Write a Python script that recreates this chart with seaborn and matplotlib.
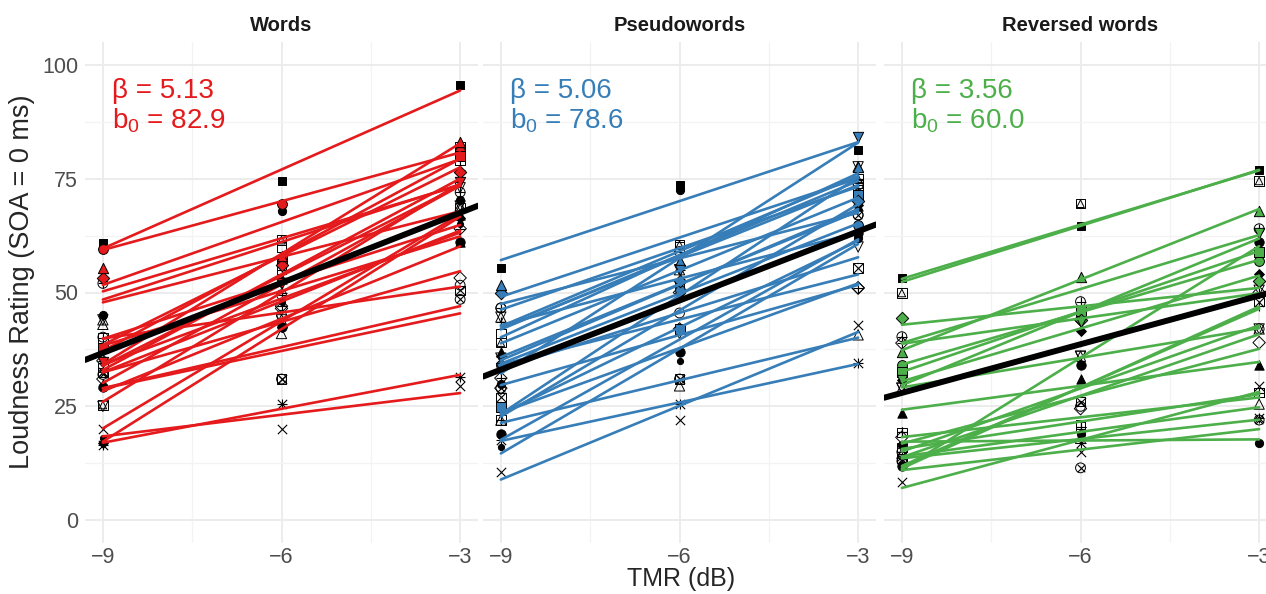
import numpy as np
import pandas as pd
import matplotlib
matplotlib.use("Agg")
import matplotlib.pyplot as plt
import seaborn as sns

# ---------------- data ----------------
tmr_levels = [-9, -6, -3]
conditions = ["Words", "Pseudowords", "Reversed words"]
cond_colors = ["#E41A1C", "#377EB8", "#4DAF4A"]
betas = [5.13, 5.06, 3.56]
intercepts = [82.9, 78.6, 60.0]
participant_shapes = list(range(26))   # R pch shape code of each participant

words_m9 = [33.5, 40.2, 43.0, 35.0, 20.0, 31.0, 25.0, 32.5, 16.5, 35.0, 52.0, 44.0, 40.0,
            32.0, 25.3, 60.9, 45.0, 30.0, 17.0, 29.2, 18.0, 59.6, 37.8, 53.2, 55.4, 34.7]
words_m6 = [60.0, 45.0, 41.0, 50.0, 20.0, 46.5, 52.0, 31.0, 25.5, 47.0, 49.5, 44.0, 55.0,
            31.0, 61.5, 74.5, 68.0, 53.0, 42.5, 42.5, 48.0, 69.5, 57.0, 56.0, 58.0, 52.0]
words_m3 = [82.0, 51.6, 67.0, 77.0, 29.5, 53.2, 73.0, 50.5, 31.4, 64.0, 72.0, 69.0, 79.0,
            48.5, 68.6, 95.6, 70.3, 61.1, 66.4, 61.0, 65.0, 81.0, 80.0, 76.5, 83.0, 74.3]

pseudo_m9 = [41.0, 46.6, 22.0, 43.5, 10.5, 29.0, 35.6, 27.0, 17.6, 31.2, 46.6, 44.6, 22.0,
             29.0, 39.0, 55.4, 30.0, 37.0, 36.0, 19.0, 16.0, 34.0, 24.8, 50.0, 51.6, 33.5]
pseudo_m6 = [60.0, 45.5, 29.5, 55.0, 22.0, 42.0, 41.0, 31.0, 25.5, 50.0, 59.0, 55.0, 52.0,
             31.0, 60.5, 73.5, 72.5, 49.5, 50.0, 37.0, 35.0, 50.5, 42.0, 52.5, 57.0, 55.0]
pseudo_m3 = [73.6, 67.0, 40.7, 75.0, 42.9, 51.0, 60.0, 55.4, 34.5, 51.0, 73.6, 77.6, 74.0,
             67.0, 75.0, 81.3, 62.0, 69.0, 69.2, 63.0, 62.0, 64.8, 71.4, 70.0, 77.6, 84.2]

rev_m9 = [16.0, 15.0, 14.7, 19.3, 8.4, 18.2, 29.0, 13.5, 14.0, 38.9, 40.3, 29.0, 19.3,
          13.0, 49.9, 53.2, 16.5, 23.5, 30.8, 12.0, 16.5, 34.0, 32.5, 44.4, 37.0, 30.8]
rev_m6 = [21.0, 25.0, 18.0, 20.5, 15.0, 24.5, 36.0, 26.0, 17.0, 44.0, 48.0, 36.0, 20.5,
          11.5, 69.5, 64.5, 19.0, 31.0, 41.5, 34.0, 19.0, 46.0, 46.0, 44.0, 53.5, 43.5]
rev_m3 = [28.0, 42.0, 25.5, 47.0, 29.5, 39.0, 50.5, 48.0, 22.5, 50.0, 64.0, 42.0, 28.0,
          22.0, 74.5, 77.0, 17.0, 34.0, 54.0, 61.0, 52.0, 57.0, 59.0, 52.5, 68.0, 63.0]

cond_values = {
    "Words": (words_m9, words_m6, words_m3),
    "Pseudowords": (pseudo_m9, pseudo_m6, pseudo_m3),
    "Reversed words": (rev_m9, rev_m6, rev_m3),
}

rows = []
for cond in conditions:
    for lvl, vals in zip(tmr_levels, cond_values[cond]):
        for pid, v in zip(participant_shapes, vals):
            rows.append((cond, pid, lvl, v))
df = pd.DataFrame(rows, columns=["condition", "participant", "tmr", "rating"])

# ---------------- marker styles (R pch emulation) ----------------
shape_layers = {
    0: [("s", "open", 45)], 1: [("o", "open", 50)], 2: [("^", "open", 55)],
    3: [("+", "line", 60)], 4: [("x", "line", 45)], 5: [("D", "open", 40)],
    6: [("v", "open", 55)], 7: [("s", "open", 45), ("x", "line", 45)],
    8: [("+", "line", 60), ("x", "line", 45)], 9: [("D", "open", 40), ("+", "line", 55)],
    10: [("o", "open", 50), ("+", "line", 50)], 11: [("^", "open", 55), ("v", "open", 55)],
    12: [("s", "open", 45), ("+", "line", 45)], 13: [("o", "open", 50), ("x", "line", 30)],
    14: [("s", "open", 45), ("^", "open", 30)], 15: [("s", "black", 40)],
    16: [("o", "black", 35)], 17: [("^", "black", 45)], 18: [("D", "black", 25)],
    19: [("o", "black", 45)], 20: [("o", "black", 20)], 21: [("o", "fill", 50)],
    22: [("s", "fill", 45)], 23: [("D", "fill", 40)], 24: [("^", "fill", 55)],
    25: [("v", "fill", 55)],
}
layer_groups = {}
for pid, layers in shape_layers.items():
    for spec in layers:
        layer_groups.setdefault(spec, []).append(pid)

# ---------------- figure ----------------
sns.set_theme(style="white")
plt.rcParams["font.family"] = ["Liberation Sans", "DejaVu Sans"]
plt.rcParams["mathtext.fontset"] = "custom"
plt.rcParams["mathtext.rm"] = "Liberation Sans"
plt.rcParams["mathtext.it"] = "Liberation Sans:italic"

W, H = 1266, 594
fig = plt.figure(figsize=(W / 100, H / 100), dpi=100)
fig.patch.set_facecolor("white")
panel_lefts = [85, 483, 884]
panel_w = 393
top_px, bot_px = 42, 543

for i, cond in enumerate(conditions):
    ax = fig.add_axes([panel_lefts[i] / W, (H - bot_px) / H, panel_w / W, (bot_px - top_px) / H])
    col = cond_colors[i]
    sub = df[df["condition"] == cond]

    # points
    for (mk, kind, size), pids in layer_groups.items():
        d = sub[sub["participant"].isin(pids)]
        if kind == "line":
            sns.scatterplot(data=d, x="tmr", y="rating", ax=ax, marker=mk, s=size,
                            color="black", linewidth=0.8, legend=False, zorder=3)
        else:
            fc = {"open": "none", "black": "black", "fill": col}[kind]
            sns.scatterplot(data=d, x="tmr", y="rating", ax=ax, marker=mk, s=size,
                            color="black", facecolor=fc, edgecolor="black",
                            linewidth=0.7, legend=False, zorder=3)

    # per-participant linear fits
    for pid in participant_shapes:
        dp = sub[sub["participant"] == pid]
        sns.regplot(data=dp, x="tmr", y="rating", ax=ax, scatter=False, ci=None,
                    color=col, line_kws={"lw": 1.9, "zorder": 4})

    ax.set_xlim(-9.3, -2.7)
    ax.set_ylim(-5, 105)
    # group-level fit
    ax.axline((0, intercepts[i]), slope=betas[i], color="black", lw=4.3, zorder=6)

    ax.set_xticks(tmr_levels)
    ax.set_xticks([-7.5, -4.5], minor=True)
    ax.set_yticks([0, 25, 50, 75, 100])
    ax.set_yticks([12.5, 37.5, 62.5, 87.5], minor=True)
    ax.grid(which="major", color="#EBEBEB", lw=1.3)
    ax.grid(which="minor", color="#F3F3F3", lw=0.9)
    ax.set_axisbelow(True)
    for s in ax.spines.values():
        s.set_visible(False)
    ax.tick_params(which="both", length=0, labelsize=15.5, colors="#4D4D4D")
    ax.tick_params(axis="x", pad=3)
    ax.tick_params(axis="y", pad=5)
    if i > 0:
        ax.tick_params(axis="y", labelleft=False)
    ax.set_xlabel("")
    ax.set_ylabel("")
    ax.set_facecolor("white")

    ax.set_title(cond, fontsize=14.5, fontweight="bold", pad=8, color="#1A1A1A")
    ax.text(-8.85, 94.3, f"\u03b2 = {betas[i]:.2f}", color=col, fontsize=20,
            ha="left", va="center", zorder=7)
    ax.text(-8.85, 87.6, r"b$_\mathregular{0}$" + f" = {intercepts[i]:.1f}", color=col,
            fontsize=20, ha="left", va="center", zorder=7)

fig.text(681 / W, (H - 579) / H, "TMR (dB)", ha="center", va="center", fontsize=18)
fig.text(22 / W, (H - 282) / H, "Loudness Rating (SOA = 0 ms)", ha="center", va="center",
         rotation=90, fontsize=19.5)

fig.savefig("out.png", dpi=100)
